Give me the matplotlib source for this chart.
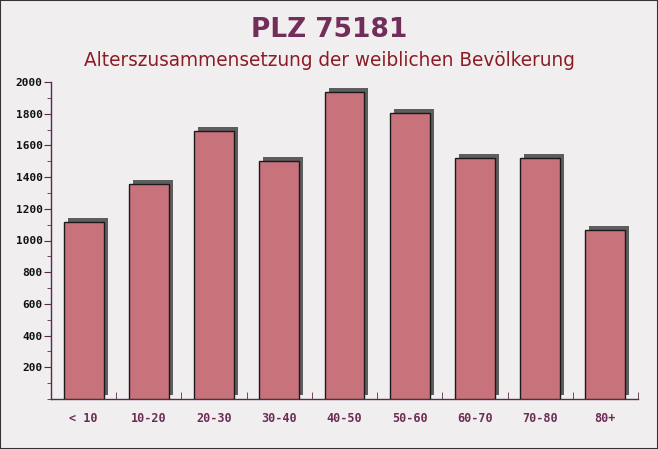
import matplotlib
matplotlib.use("Agg")
import matplotlib.pyplot as plt
import matplotlib.transforms as mtransforms
from matplotlib.ticker import MultipleLocator, FixedLocator
import numpy as np

categories = ["< 10", "10-20", "20-30", "30-40", "40-50", "50-60", "60-70", "70-80", "80+"]
values = [1118, 1358, 1693, 1503, 1939, 1807, 1522, 1522, 1068]
y_ticks = [200, 400, 600, 800, 1000, 1200, 1400, 1600, 1800, 2000]

title = "PLZ 75181"
subtitle = "Alterszusammensetzung der weiblichen Bevölkerung"

fig = plt.figure(figsize=(6.58, 4.49), dpi=100)
fig.patch.set_facecolor("#f1eef0")
ax = fig.add_axes([51/658, 50/449, 587/658, 317/449])
ax.set_facecolor("none")

x = np.arange(len(categories))
w = 0.61
shadow_tr = mtransforms.offset_copy(ax.transData, fig=fig, x=4, y=4, units="dots")
ax.bar(x, values, width=w, color="#5e5e5e", edgecolor="none", transform=shadow_tr, zorder=2)
ax.bar(x, values, width=w, color="#c8737b", edgecolor="#1a1a1a", linewidth=1.0, zorder=3)

ax.set_xlim(-0.5, len(categories) - 0.5)
ax.set_ylim(0, 2000)

ax.spines["top"].set_visible(False)
ax.spines["right"].set_visible(False)
for s in ("left", "bottom"):
    ax.spines[s].set_color("#5a2a48")
    ax.spines[s].set_linewidth(1.0)

ax.yaxis.set_major_locator(FixedLocator(y_ticks))
ax.yaxis.set_minor_locator(MultipleLocator(100))
ax.tick_params(axis="y", which="major", direction="out", length=5, color="#5a2a48",
               labelsize=8, labelcolor="#111111", pad=1)
ax.tick_params(axis="y", which="minor", direction="out", length=3, color="#5a2a48")
for lab in ax.get_yticklabels():
    lab.set_family("DejaVu Sans Mono")
    lab.set_fontweight("bold")

ax.set_xticks(x)
ax.set_xticklabels(categories, family="DejaVu Sans Mono", fontweight="bold",
                   fontsize=8.5, color="#6b2d55")
ax.xaxis.set_minor_locator(FixedLocator(np.arange(len(categories)) + 0.5))
ax.tick_params(axis="x", which="major", length=0, pad=9)
ax.tick_params(axis="x", which="minor", direction="in", length=5, color="#5a2a48")

fig.text(0.5, 1 - 30/449, title, ha="center", va="center", fontsize=19,
         fontweight="bold", color="#722d5a")
fig.text(0.5, 1 - 61/449, subtitle, ha="center", va="center", fontsize=13.35,
         color="#8c1c24")

border = plt.Rectangle((0, 0), 1, 1, transform=fig.transFigure, fill=False,
                       edgecolor="#333333", linewidth=1.5)
fig.patches.append(border)

fig.savefig("out.png", dpi=100, facecolor=fig.get_facecolor())
